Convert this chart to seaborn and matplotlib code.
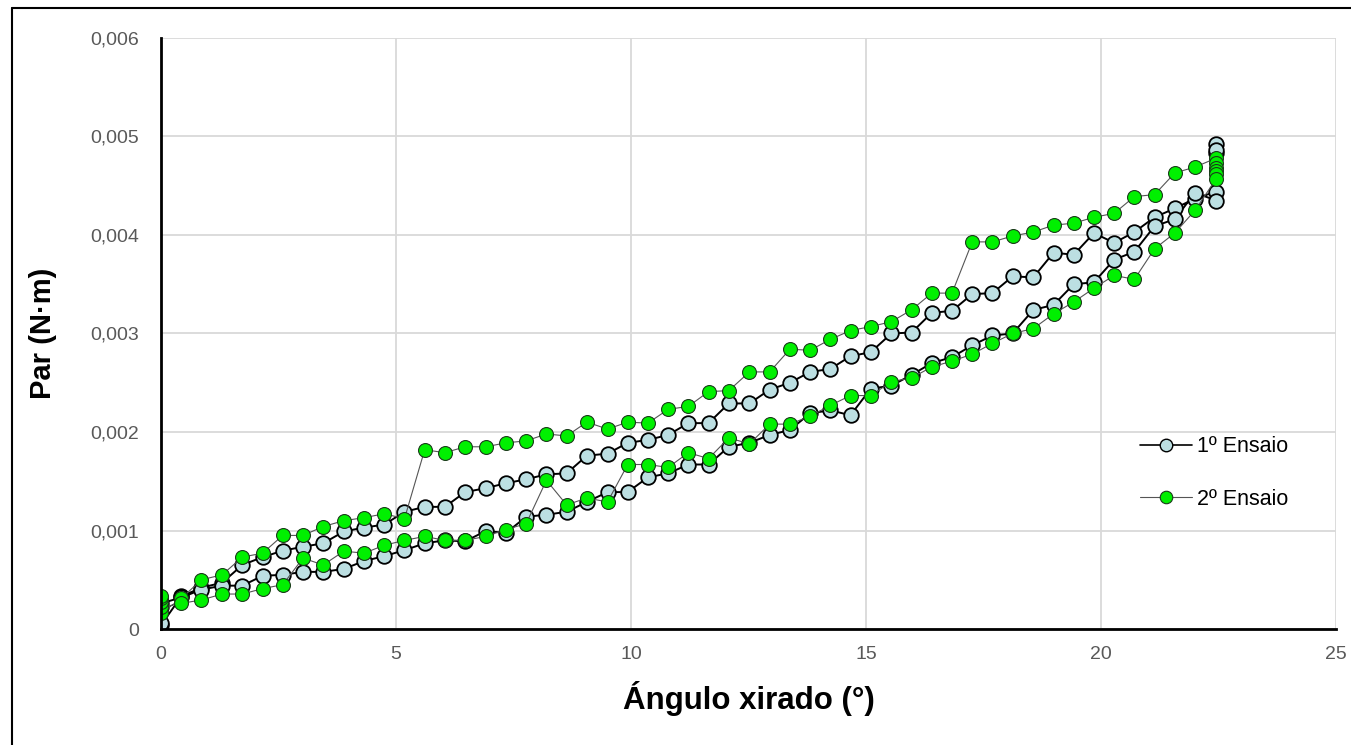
import pandas as pd
import numpy as np
import matplotlib
matplotlib.use("Agg")
import matplotlib.pyplot as plt
from matplotlib.lines import Line2D
import seaborn as sns

# angle steps (degrees)
angle_up = [0.00, 0.43, 0.86, 1.30, 1.73, 2.16, 2.59, 3.02, 3.45, 3.89, 4.32, 4.75, 5.18,
            5.61, 6.04, 6.47, 6.91, 7.34, 7.77, 8.20, 8.63, 9.06, 9.50, 9.93, 10.36, 10.79,
            11.22, 11.65, 12.08, 12.52, 12.95, 13.38, 13.81, 14.24, 14.67, 15.10, 15.54,
            15.97, 16.40, 16.83, 17.26, 17.69, 18.12, 18.56, 18.99, 19.42, 19.85, 20.28,
            20.71, 21.14, 21.57, 22.00, 22.45]
angle_down = angle_up[::-1][1:]

# 1º Ensaio (torque in mN·m, converted below)
t1_top = [22.45, 22.45, 22.45, 22.45]
p1_top = [4.83, 4.92, 4.86, 4.35]
p1_up = [0.04, 0.33, 0.42, 0.47, 0.65, 0.73, 0.795, 0.835, 0.87, 0.99, 1.03, 1.06, 1.19,
         1.24, 1.24, 1.39, 1.43, 1.48, 1.52, 1.57, 1.58, 1.76, 1.78, 1.89, 1.92, 1.97,
         2.09, 2.09, 2.29, 2.29, 2.43, 2.50, 2.61, 2.64, 2.77, 2.81, 3.00, 3.01, 3.21,
         3.23, 3.40, 3.41, 3.58, 3.57, 3.82, 3.80, 4.02, 3.92, 4.03, 4.18, 4.27, 4.37, 4.44]
p1_down = [4.43, 4.16, 4.09, 3.83, 3.75, 3.52, 3.50, 3.29, 3.24, 3.00, 2.98, 2.88, 2.76,
           2.70, 2.58, 2.47, 2.44, 2.17, 2.22, 2.19, 2.02, 1.97, 1.89, 1.85, 1.67, 1.67,
           1.58, 1.54, 1.39, 1.39, 1.29, 1.19, 1.16, 1.14, 0.975, 0.995, 0.89, 0.90, 0.87,
           0.80, 0.74, 0.69, 0.61, 0.58, 0.58, 0.55, 0.54, 0.44, 0.44, 0.40, 0.32, 0.26]
t1_end = [0.0, 0.0]
p1_end = [0.22, 0.06]

# 2º Ensaio
t2_top = [22.45, 22.45, 22.45, 22.45, 22.45]
p2_top = [4.73, 4.68, 4.65, 4.62, 4.57]
p2_up = [0.16, 0.31, 0.50, 0.55, 0.73, 0.77, 0.95, 0.95, 1.04, 1.10, 1.13, 1.17, 1.12,
         1.82, 1.79, 1.85, 1.85, 1.89, 1.91, 1.98, 1.96, 2.10, 2.03, 2.10, 2.09, 2.23,
         2.26, 2.41, 2.42, 2.61, 2.61, 2.84, 2.83, 2.94, 3.03, 3.07, 3.12, 3.24, 3.41,
         3.41, 3.93, 3.93, 3.99, 4.03, 4.10, 4.12, 4.18, 4.22, 4.39, 4.41, 4.63, 4.69, 4.78]
p2_down = [4.25, 4.02, 3.86, 3.55, 3.59, 3.46, 3.32, 3.20, 3.05, 3.00, 2.90, 2.79, 2.72,
           2.66, 2.55, 2.51, 2.37, 2.37, 2.27, 2.16, 2.08, 2.08, 1.88, 1.94, 1.73, 1.79,
           1.64, 1.67, 1.67, 1.29, 1.33, 1.26, 1.51, 1.07, 1.01, 0.94, 0.90, 0.90, 0.94,
           0.90, 0.85, 0.77, 0.79, 0.65, 0.72, 0.45, 0.41, 0.355, 0.355, 0.295, 0.26, 0.22]
t2_end = [0.0, 0.0, 0.0]
p2_end = [0.27, 0.31, 0.34]

ens1 = pd.DataFrame({
    "angulo": angle_up + t1_top + angle_down + t1_end,
    "par": np.array(p1_up + p1_top + p1_down + p1_end) / 1000,
})
ens2 = pd.DataFrame({
    "angulo": angle_up + t2_top + angle_down + t2_end,
    "par": np.array(p2_up + p2_top + p2_down + p2_end) / 1000,
})

sns.set_theme(style="whitegrid")
plt.rcParams['font.family'] = ['Liberation Sans', 'DejaVu Sans']

fig = plt.figure(figsize=(13.51, 7.45), dpi=100)
ax = fig.add_axes([0.1192, 0.1557, 0.8697, 0.7933])

sns.lineplot(data=ens1, x="angulo", y="par", sort=False, estimator=None, ax=ax,
             color="black", linewidth=1.4, marker="o", markersize=10.5,
             markerfacecolor="#BCDFE2", markeredgecolor="black", markeredgewidth=1.3,
             zorder=3)
sns.lineplot(data=ens2, x="angulo", y="par", sort=False, estimator=None, ax=ax,
             color="#555555", linewidth=0.8, marker="o", markersize=10,
             markerfacecolor="#00F000", markeredgecolor="#1a3a1a", markeredgewidth=0.8,
             zorder=4)

ax.set_xlim(0, 25)
ax.set_ylim(0, 0.006)
ax.set_xticks([0, 5, 10, 15, 20, 25])
ax.set_yticks([0, 0.001, 0.002, 0.003, 0.004, 0.005, 0.006])
ax.set_yticklabels(["0", "0,001", "0,002", "0,003", "0,004", "0,005", "0,006"])
ax.tick_params(axis="both", length=0, labelsize=14, labelcolor="#595959")
ax.tick_params(axis="x", pad=12)
ax.tick_params(axis="y", pad=16)
ax.grid(True, color="#D9D9D9", linewidth=1.3)
ax.set_facecolor("white")
for side in ["top", "right"]:
    ax.spines[side].set_visible(False)
for side in ["left", "bottom"]:
    ax.spines[side].set_color("black")
    ax.spines[side].set_linewidth(2)
    ax.spines[side].set_zorder(5)

ax.set_xlabel("Ángulo xirado (°)", fontsize=22.5, fontweight="bold", labelpad=13,
              color="black")
ax.set_ylabel("Par (N·m)", fontsize=21, fontweight="bold", labelpad=24, color="black")

handles = [
    Line2D([], [], color="black", linewidth=1.2, marker="o", markersize=9,
           markerfacecolor="#BCDFE2", markeredgecolor="black", markeredgewidth=1.0),
    Line2D([], [], color="#555555", linewidth=0.8, marker="o", markersize=9,
           markerfacecolor="#00F000", markeredgecolor="#1a3a1a", markeredgewidth=0.8),
]
leg = ax.legend(handles, ["1º Ensaio", "2º Ensaio"], loc="center left",
                bbox_to_anchor=(0.817, 0.264), frameon=False, fontsize=15.5,
                labelspacing=1.45, handlelength=2.4, handletextpad=0.25)
for txt in leg.get_texts():
    txt.set_color("black")

# outer frame of the original chart (top and left edges only)
fig.add_artist(Line2D([12 / 1351, 1.0], [1 - 8 / 745, 1 - 8 / 745],
                      transform=fig.transFigure, color="black", linewidth=1.5))
fig.add_artist(Line2D([12 / 1351, 12 / 1351], [0.0, 1 - 8 / 745],
                      transform=fig.transFigure, color="black", linewidth=1.5))

fig.savefig("out.png", dpi=100, facecolor="white")
